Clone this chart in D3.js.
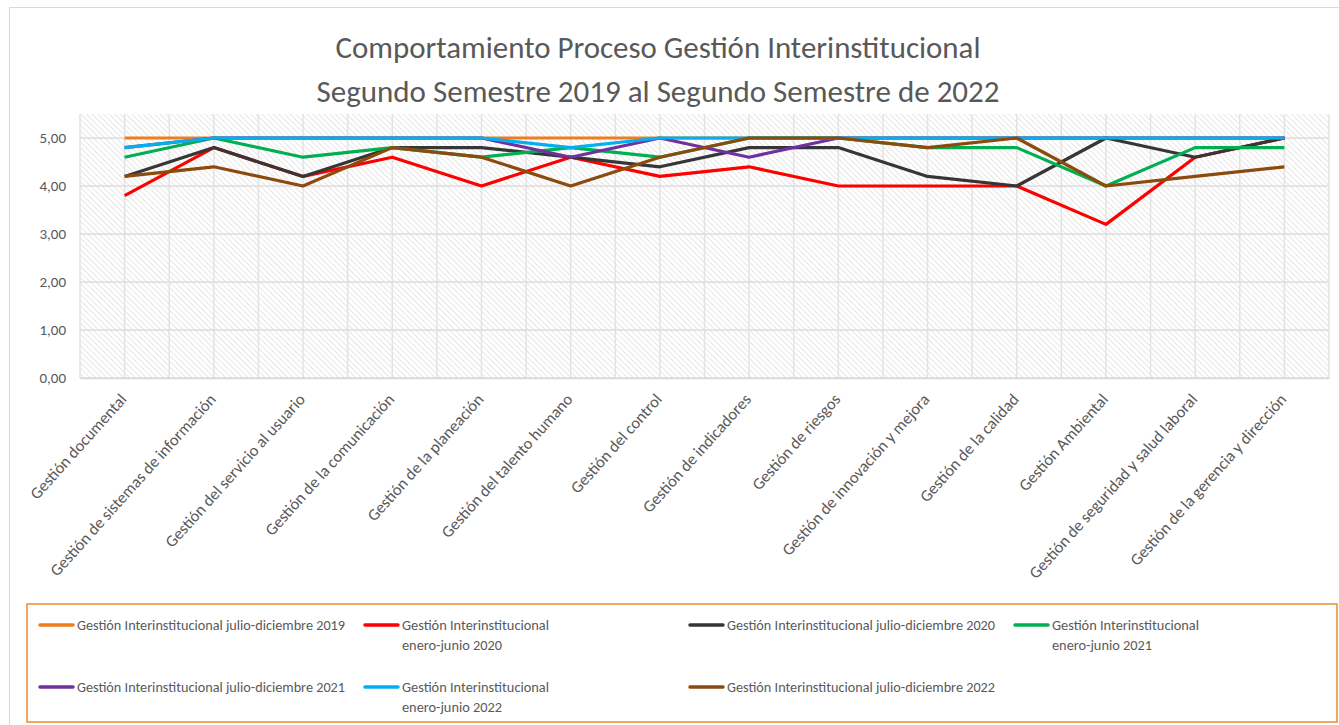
<!DOCTYPE html>
<html>
<head>
<meta charset="utf-8">
<script src="https://cdn.jsdelivr.net/npm/d3@7"></script>
<style>
  body { margin: 0; background: #fff; }
  svg text { font-family: Carlito, "Liberation Sans Narrow", "Liberation Sans", sans-serif; fill: #595959; }
</style>
</head>
<body>
<div id="chart"></div>
<script>
// categories (x axis)
const categories = [
    "Gestión documental", "Gestión de sistemas de información", "Gestión del servicio al usuario",
    "Gestión de la comunicación", "Gestión de la planeación", "Gestión del talento humano",
    "Gestión del control", "Gestión de indicadores", "Gestión de riesgos",
    "Gestión de innovación y mejora", "Gestión de la calidad", "Gestión Ambiental",
    "Gestión de seguridad y salud laboral", "Gestión de la gerencia y dirección"
];

// series values, one array per period
const jd2019 = [5.0, 5.0, 5.0, 5.0, 5.0, 5.0, 5.0, 5.0, 5.0, 5.0, 5.0, 5.0, 5.0, 5.0];
const ej2020 = [3.8, 4.8, 4.2, 4.6, 4.0, 4.6, 4.2, 4.4, 4.0, 4.0, 4.0, 3.2, 4.6, 5.0];
const jd2020 = [4.2, 4.8, 4.2, 4.8, 4.8, 4.6, 4.4, 4.8, 4.8, 4.2, 4.0, 5.0, 4.6, 5.0];
const ej2021 = [4.6, 5.0, 4.6, 4.8, 4.6, 4.8, 4.6, 5.0, 5.0, 4.8, 4.8, 4.0, 4.8, 4.8];
const jd2021 = [4.8, 5.0, 5.0, 5.0, 5.0, 4.6, 5.0, 4.6, 5.0, 5.0, 5.0, 5.0, 5.0, 5.0];
const ej2022 = [4.8, 5.0, 5.0, 5.0, 5.0, 4.8, 5.0, 5.0, 5.0, 5.0, 5.0, 5.0, 5.0, 5.0];
const jd2022 = [4.2, 4.4, 4.0, 4.8, 4.6, 4.0, 4.6, 5.0, 5.0, 4.8, 5.0, 4.0, 4.2, 4.4];

const seriesNames = [
    "Gestión Interinstitucional julio-diciembre 2019",
    "Gestión Interinstitucional enero-junio 2020",
    "Gestión Interinstitucional julio-diciembre 2020",
    "Gestión Interinstitucional enero-junio 2021",
    "Gestión Interinstitucional julio-diciembre 2021",
    "Gestión Interinstitucional enero-junio 2022",
    "Gestión Interinstitucional julio-diciembre 2022"
];
const seriesValues = [jd2019, ej2020, jd2020, ej2021, jd2021, ej2022, jd2022];

// y tick values
const yTicks = [0, 1, 2, 3, 4, 5];

const titleLines = [
    "Comportamiento Proceso Gestión Interinstitucional",
    "Segundo Semestre 2019 al Segundo Semestre de 2022"
];

const colors = ["#EE7D1E", "#FF0000", "#363636", "#00B050", "#7030A0", "#00B0F0", "#8C4A0C"];

let width = 1339, height = 725;
let plot = {left: 80, right: 1329, top: 114, bottom: 378};

let svg = d3.select("#chart").append("svg")
    .attr("width", width)
    .attr("height", height);

// hatched background pattern (downward diagonal)
let defs = svg.append("defs");
let pat = defs.append("pattern")
    .attr("id", "hatch")
    .attr("patternUnits", "userSpaceOnUse")
    .attr("width", 4)
    .attr("height", 4)
    .attr("patternTransform", "rotate(-45)");
pat.append("rect").attr("width", 4).attr("height", 4).attr("fill", "#fff");
pat.append("line")
    .attr("x1", 0).attr("y1", 0).attr("x2", 0).attr("y2", 4)
    .attr("stroke", "#e0e0e0").attr("stroke-width", 1.6);

// chart border
svg.append("rect")
    .attr("x", 9.5).attr("y", 7.5)
    .attr("width", width).attr("height", height)
    .attr("fill", "none")
    .attr("stroke", "#d9d9d9");

// title
svg.selectAll(".title")
    .data(titleLines)
    .enter().append("text")
    .attr("class", "title")
    .attr("x", 658)
    .attr("y", (d, i) => 58 + i * 44)
    .attr("text-anchor", "middle")
    .style("font-size", "31px")
    .attr("textLength", (d, i) => i === 0 ? 645 : 683)
    .attr("lengthAdjust", "spacingAndGlyphs")
    .text(d => d);

// scales
let x = d3.scaleBand()
    .domain(categories)
    .range([plot.left, plot.right]);
let cx = d => x(d) + x.bandwidth() / 2;

let y = d3.scaleLinear()
    .domain([0, 5.5])
    .range([plot.bottom, plot.top]);

svg.append("rect")
    .attr("x", plot.left).attr("y", plot.top)
    .attr("width", plot.right - plot.left)
    .attr("height", plot.bottom - plot.top)
    .attr("fill", "url(#hatch)");

// vertical gridlines at category centers and boundaries
let vLines = [];
categories.forEach(c => { vLines.push(x(c)); vLines.push(cx(c)); });
vLines.push(plot.right);
svg.append("g")
    .selectAll("line")
    .data(vLines)
    .enter().append("line")
    .attr("x1", d => d).attr("x2", d => d)
    .attr("y1", plot.top).attr("y2", plot.bottom)
    .attr("stroke", "#e3e3e3")
    .attr("stroke-width", 1.5);

// horizontal gridlines
svg.append("g")
    .selectAll("line")
    .data(yTicks)
    .enter().append("line")
    .attr("x1", plot.left).attr("x2", plot.right)
    .attr("y1", d => y(d)).attr("y2", d => y(d))
    .attr("stroke", "#dcdcdc")
    .attr("stroke-width", 1.5);

// y axis labels
let fmt = d3.formatLocale({decimal: ",", thousands: ".", grouping: [3], currency: ["", ""]}).format(".2f");
let yAxis = svg.append("g")
    .attr("transform", "translate(" + plot.left + ",0)")
    .call(d3.axisLeft(y).tickValues(yTicks).tickFormat(fmt).tickSize(0).tickPadding(14));
yAxis.select(".domain").remove();
yAxis.selectAll("text").style("font-size", "15px").style("font-family", null).attr("fill", null);

// x axis labels
let xAxis = svg.append("g")
    .attr("transform", "translate(0," + plot.bottom + ")")
    .call(d3.axisBottom(x).tickSize(0));
xAxis.select(".domain").attr("stroke", "#d9d9d9").attr("stroke-width", 1.5);
xAxis.selectAll("text")
    .attr("fill", null)
    .style("font-family", null)
    .style("font-size", "16.5px")
    .attr("text-anchor", "end")
    .attr("x", 0).attr("y", 0).attr("dy", null)
    .attr("transform", "translate(3,22) rotate(-48)");

// lines
let line = d3.line()
    .x((d, i) => cx(categories[i]))
    .y(d => y(d));

svg.append("g")
    .selectAll("path")
    .data(seriesValues)
    .enter().append("path")
    .attr("fill", "none")
    .attr("stroke", (d, i) => colors[i])
    .attr("stroke-width", 3.2)
    .attr("stroke-linejoin", "round")
    .attr("d", line);

// legend
svg.append("rect")
    .attr("x", 27).attr("y", 604)
    .attr("width", 1310).attr("height", 118)
    .attr("fill", "#fff")
    .attr("stroke", "#EE8A2A")
    .attr("stroke-width", 1.5);

let legend = svg.append("g")
    .selectAll("g")
    .data(seriesNames)
    .enter().append("g")
    .attr("transform", (d, i) => "translate(" + (40 + (i % 4) * 325) + "," + (625 + Math.floor(i / 4) * 62) + ")");

legend.append("line")
    .attr("x1", 0).attr("x2", 33)
    .attr("stroke", (d, i) => colors[i])
    .attr("stroke-width", 3.5)
    .attr("stroke-linecap", "round");

legend.each(function (d) {
    let g = d3.select(this);
    // enero-junio labels wrap onto two lines
    let parts = d.indexOf("enero") >= 0
        ? ["Gestión Interinstitucional", d.replace("Gestión Interinstitucional ", "")]
        : [d];
    parts.forEach(function (p, k) {
        g.append("text")
            .attr("x", 37)
            .attr("y", k * 20)
            .attr("dy", "0.35em")
            .style("font-size", "13.5px")
            .attr("textLength", parts.length > 1 ? (k === 0 ? 147 : 100) : 268)
            .attr("lengthAdjust", "spacingAndGlyphs")
            .text(p);
    });
});
</script>
</body>
</html>
